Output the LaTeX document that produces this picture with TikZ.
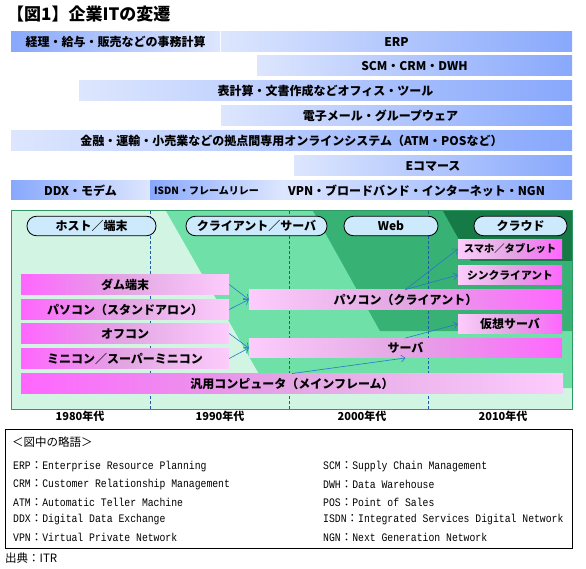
\documentclass[tikz,border=0pt]{standalone}
\usepackage{fontspec}
\setmainfont{Noto Sans CJK JP}
\newfontfamily\legmono{Liberation Mono}[FakeStretch=0.85]
\usepackage{tikz}
\usetikzlibrary{arrows.meta}
\usepackage{xcolor}

\definecolor{barDark}{HTML}{88A8FC}
\definecolor{barLight}{HTML}{DDE6FE}
\definecolor{pinkDark}{HTML}{FF66FF}
\definecolor{pinkMid}{HTML}{E3A6E3}
\definecolor{pinkLight}{HTML}{FCCCFC}
\definecolor{mint}{HTML}{D2F4E2}
\definecolor{grnMid}{HTML}{6EE0A8}
\definecolor{grnDark}{HTML}{37B174}
\definecolor{grnDeep}{HTML}{157A45}
\definecolor{frameGrn}{HTML}{2E9960}
\definecolor{pill}{HTML}{CDEAFC}
\definecolor{arrowBlue}{HTML}{2A78C8}
\definecolor{dashBlue}{HTML}{1F5AA8}

\newcommand{\abbrv}[2]{{\legmono #1}：{\legmono #2}}

\begin{document}
\begin{tikzpicture}[x=1pt,y=-1pt,
  bar/.style={minimum height=20pt, inner sep=0pt, font=\bfseries\fontsize{12}{14}\selectfont},
  barL/.style={bar, left color=barDark, right color=barLight},
  barR/.style={bar, left color=barLight, right color=barDark},
  box/.style={minimum height=19.5pt, inner sep=0pt, font=\bfseries\fontsize{12}{14}\selectfont},
  boxL/.style={box, left color=pinkDark, right color=pinkLight, middle color=pinkMid},
  boxR/.style={box, left color=pinkLight, right color=pinkDark, middle color=pinkMid},
  era/.style={draw=black, line width=0.8pt, fill=pill, rounded corners=9.5pt, minimum height=19.5pt, inner sep=0pt, font=\bfseries\fontsize{12}{14}\selectfont},
  decade/.style={font=\bfseries\fontsize{11}{13}\selectfont},
  link/.style={draw=arrowBlue, line width=0.6pt, -{Straight Barb[length=4pt,width=7pt]}},
  divider/.style={dashBlue, line width=0.7pt, dash pattern=on 3pt off 2pt},
  legend/.style={anchor=west, inner sep=0pt, font=\fontsize{11.5}{13}\selectfont}]
\useasboundingbox (0,0) rectangle (586,569);

\node[anchor=west, inner sep=0pt, font=\bfseries\fontsize{17}{19}\selectfont] (title) at (7,14.5) {【図1】企業ITの変遷};

% technology bars
\node[barL, minimum width=209pt] (acct) at (115.5,42) {経理・給与・販売などの事務計算};
\node[barR, minimum width=351pt] (erp) at (396.5,42) {ERP};
\node[barR, minimum width=315pt] (scm) at (414.5,66) {SCM・CRM・DWH};
\node[barR, minimum width=493pt] (office) at (325.5,91) {表計算・文書作成などオフィス・ツール};
\node[barR, minimum width=351pt, label={[bar, xshift=-16pt]center:電子メール・グループウェア}] (mail) at (396.5,116) {};
\node[barR, minimum width=561pt] (online) at (291.5,141) {金融・運輸・小売業などの拠点間専用オンラインシステム（ATM・POSなど）};
\node[barR, minimum width=278pt] (ecom) at (433,166) {Eコマース};
\node[barL, minimum width=139pt, minimum height=19pt] (ddx) at (80.5,190.5) {DDX・モデム};
\node[barL, minimum width=133pt, minimum height=19pt, label={[bar, font=\bfseries\fontsize{10}{12}\selectfont, xshift=-10pt]center:ISDN・フレームリレー}] (isdn) at (216.5,190.5) {};
\node[barR, minimum width=289pt, minimum height=19pt, label={[bar, xshift=-11pt]center:VPN・ブロードバンド・インターネット・NGN}] (vpn) at (427.5,190.5) {};

% eras panel
\draw[frameGrn, line width=1pt, fill=mint] (11,211) rectangle (572,409);
\fill[grnMid] (166,211) -- (572,211) -- (572,388) -- (267,388) -- cycle;
\fill[grnDark] (313,211) -- (572,211) -- (572,331) -- (380,331) -- cycle;
\fill[grnDeep] (443,211) -- (572,211) -- (572,261) -- (471,261) -- cycle;
\draw[divider] (150,211) -- (150,409);
\draw[divider] (289,211) -- (289,409);
\draw[divider] (428,211) -- (428,409);
\draw[frameGrn, line width=1pt] (11,211) rectangle (572,409);

\node[era, minimum width=129pt] (host) at (91.5,226) {ホスト／端末};
\node[era, minimum width=141pt] (cs) at (256.5,226) {クライアント／サーバ};
\node[era, minimum width=94pt] (web) at (391,226) {Web};
\node[era, minimum width=93pt] (cloud) at (520.5,226) {クラウド};

\node[boxL, minimum width=208pt] (dumb) at (125,284.5) {ダム端末};
\node[boxL, minimum width=208pt] (pcsa) at (125,309.5) {パソコン（スタンドアロン）};
\node[boxL, minimum width=208pt] (offcon) at (125,333.5) {オフコン};
\node[boxL, minimum width=208pt] (minicon) at (125,358.5) {ミニコン／スーパーミニコン};
\node[boxL, minimum width=542pt] (mainfr) at (292,383.5) {汎用コンピュータ（メインフレーム）};
\node[boxR, minimum width=313pt] (pccl) at (405.5,299.5) {パソコン（クライアント）};
\node[boxR, minimum width=313pt] (server) at (405.5,348) {サーバ};
\node[boxR, minimum width=104pt, font=\bfseries\fontsize{10.3}{12}\selectfont] (smart) at (510,249) {スマホ／タブレット};
\node[boxR, minimum width=104pt, font=\bfseries\fontsize{10.8}{12}\selectfont] (thin) at (510,275) {シンクライアント};
\node[boxR, minimum width=104pt] (virt) at (510,324) {仮想サーバ};

\draw[link] (dumb.east) -- (pccl.west);
\draw[link] (pcsa.east) -- (pccl.west);
\draw[link] (offcon.east) -- (server.west);
\draw[link] (minicon.east) -- (server.west);
\draw[link] (pccl.north) -- (smart.west);
\draw[link] (pccl.north) -- (thin.west);
\draw[link] (server.north) -- (virt.west);
\draw[link] (mainfr.north) -- (server.south);

\node[decade] (d80) at (80,416.5) {1980年代};
\node[decade] (d90) at (220,416.5) {1990年代};
\node[decade] (d00) at (362,416.5) {2000年代};
\node[decade] (d10) at (503,416.5) {2010年代};

% abbreviations
\draw[black, line width=0.8pt] (5,429) rectangle (572,548);
\node[legend] (legtitle) at (12,442) {＜図中の略語＞};
\node[legend] (erpL) at (13,467) {\abbrv{ERP}{Enterprise Resource Planning}};
\node[legend] (crmL) at (13,484.5) {\abbrv{CRM}{Customer Relationship Management}};
\node[legend] (atmL) at (13,502) {\abbrv{ATM}{Automatic Teller Machine}};
\node[legend] (ddxL) at (13,519.5) {\abbrv{DDX}{Digital Data Exchange}};
\node[legend] (vpnL) at (13,537) {\abbrv{VPN}{Virtual Private Network}};
\node[legend] (scmL) at (323,467) {\abbrv{SCM}{Supply Chain Management}};
\node[legend] (dwhL) at (323,484.5) {\abbrv{DWH}{Data Warehouse}};
\node[legend] (posL) at (323,502) {\abbrv{POS}{Point of Sales}};
\node[legend] (isdnL) at (323,519.5) {\abbrv{ISDN}{Integrated Services Digital Network}};
\node[legend] (ngnL) at (323,537) {\abbrv{NGN}{Next Generation Network}};

\node[legend] (source) at (5,558) {出典：ITR};
\end{tikzpicture}
\end{document}
